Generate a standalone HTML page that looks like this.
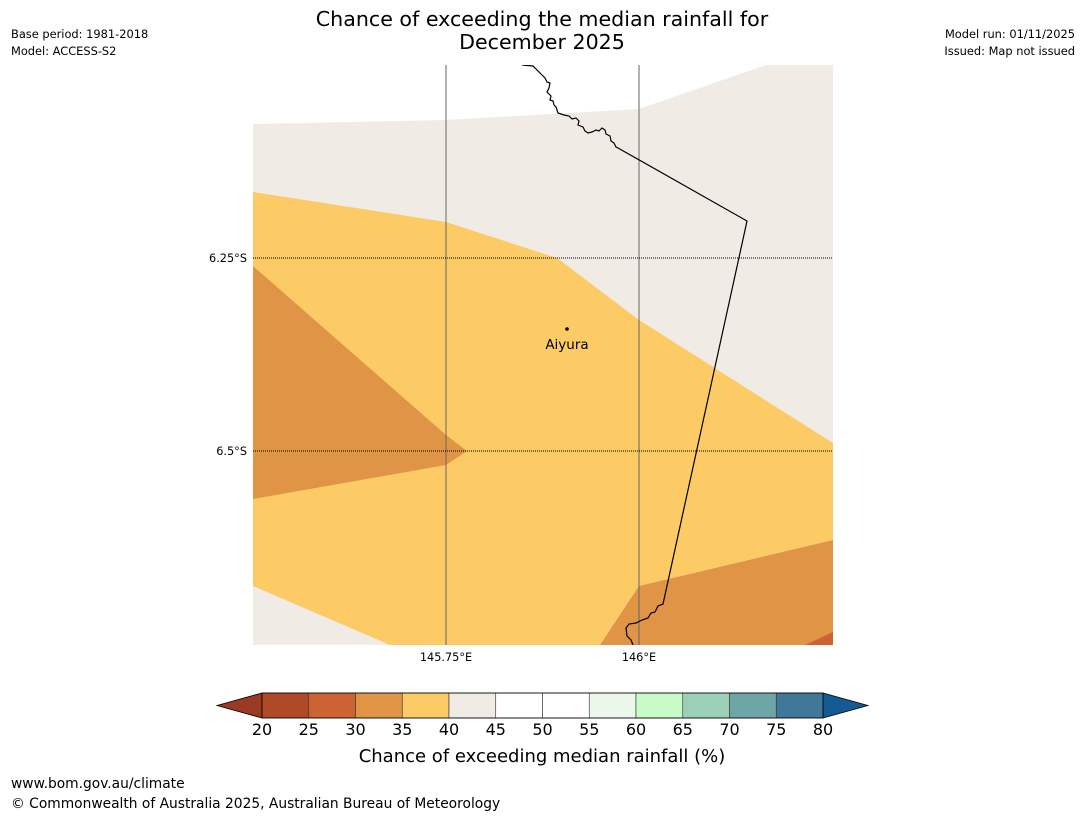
<!DOCTYPE html>
<html><head><meta charset="utf-8"><style>
body{margin:0;background:#fff;font-family:"DejaVu Sans","Liberation Sans",sans-serif;}
svg text{font-family:"DejaVu Sans","Liberation Sans",sans-serif;}
</style></head><body>
<svg width="1085" height="816" xmlns="http://www.w3.org/2000/svg">
<rect width="1085" height="816" fill="#fff"/>
<text x="542" y="26" font-size="20.6" text-anchor="middle">Chance of exceeding the median rainfall for</text>
<text x="542" y="49" font-size="20.6" text-anchor="middle">December 2025</text>
<text x="11" y="38" font-size="11.4">Base period: 1981-2018</text>
<text x="11" y="55" font-size="11.4">Model: ACCESS-S2</text>
<text x="1075" y="38" font-size="11.4" text-anchor="end">Model run: 01/11/2025</text>
<text x="1075" y="55" font-size="11.4" text-anchor="end">Issued: Map not issued</text>
<g>
<clipPath id="mc"><rect x="253" y="65" width="580" height="580"/></clipPath>
<g clip-path="url(#mc)">
<rect x="253" y="65" width="580" height="580" fill="#f0ebe5"/>
<polygon points="253,65 253,124 446,120 639,109 766,65" fill="#fff"/>
<polygon points="253,192 446,222 557,258 639,320 833,443 833,540 639,586 600,645 390,645 253,586" fill="#fdcb66"/>
<polygon points="253,266 446,435 467,451 446,465 253,499" fill="#e09446"/>
<polygon points="639,586 833,540 833,645 600,645" fill="#e09446"/>
<polygon points="805,645 833,632 833,645" fill="#cb6333"/>
<line x1="446" y1="65" x2="446" y2="645" stroke="#666" stroke-width="1"/>
<line x1="639" y1="65" x2="639" y2="645" stroke="#666" stroke-width="1"/>
<line x1="253" y1="258" x2="833" y2="258" stroke="#000" stroke-width="1" stroke-dasharray="1,1"/>
<line x1="253" y1="451" x2="833" y2="451" stroke="#000" stroke-width="1" stroke-dasharray="1,1"/>
<polyline fill="none" stroke="#000" stroke-width="1.2" points="522,65 533,66 538,71 542,75 545,78 547,82 550,83 549,88 547,92 551,96 550,100 553,101 554,105 556,107 557,110 558,113 564,115 569,116 572,119 576,118 579,121 578,125 583,127 585,131 588,133 592,132 596,130 599,131 602,128 605,130 606,134 610,136 611,141 614,143 616,147 618,148 747,221 663,604 658,606 655,612 651,613 648,618 642,620 636,623 629,624 626,628 627,636 631,640 633,645"/>
<circle cx="567" cy="329" r="1.8" fill="#000"/>
<text x="567" y="349" font-size="13.5" text-anchor="middle">Aiyura</text>
</g>
<text x="247" y="262" font-size="11.3" text-anchor="end">6.25°S</text>
<text x="247" y="455" font-size="11.3" text-anchor="end">6.5°S</text>
<text x="446" y="661" font-size="11.3" text-anchor="middle">145.75°E</text>
<text x="639" y="661" font-size="11.3" text-anchor="middle">146°E</text>
</g>
<g id="cbar"></g>
<text x="542" y="762" font-size="18" text-anchor="middle">Chance of exceeding median rainfall (%)</text>
<text x="11" y="788" font-size="13.8">www.bom.gov.au/climate</text>
<text x="11" y="808" font-size="13.8">© Commonwealth of Australia 2025, Australian Bureau of Meteorology</text>
</svg>
<script>
const cbTicks=[20,25,30,35,40,45,50,55,60,65,70,75,80];
const cbColors=['#b04a26','#cb6333','#e09446','#fdcb66','#f0ebe5','#ffffff','#ffffff','#ebf7ea','#c9fbc9','#9ccfb8','#6ea6a8','#3f7898'];
const cbLow='#9b3a22', cbHigh='#165a94';
const NS='http://www.w3.org/2000/svg';
const g=document.getElementById('cbar');
const x0=262,x1=823,y0=693,y1=718;
const xs=v=>x0+(v-cbTicks[0])/(cbTicks[cbTicks.length-1]-cbTicks[0])*(x1-x0);
function mk(t,a){const e=document.createElementNS(NS,t);for(const k in a)e.setAttribute(k,a[k]);g.appendChild(e);return e;}
let p=mk('polygon',{points:`${x0},${y0} 217,${(y0+y1)/2} ${x0},${y1}`,fill:cbLow,stroke:'#000','stroke-width':0.8});


p=mk('polygon',{points:`${x1},${y0} 868,${(y0+y1)/2} ${x1},${y1}`,fill:cbHigh,stroke:'#000','stroke-width':0.8});


cbColors.forEach((c,i)=>{
 const a=xs(cbTicks[i]),b=xs(cbTicks[i+1]);
 const r=mk('rect',{x:a,y:y0,width:b-a,height:y1-y0,fill:c,stroke:'#333','stroke-width':0.6});
 
 
});
mk('rect',{x:x0,y:y0,width:x1-x0,height:y1-y0,fill:'none',stroke:'#000','stroke-width':0.8});
cbTicks.forEach(v=>{
 const t=mk('text',{x:xs(v),y:735,'font-size':16,'text-anchor':'middle'});
 t.textContent=v;
 
 
});
</script>
</body></html>
